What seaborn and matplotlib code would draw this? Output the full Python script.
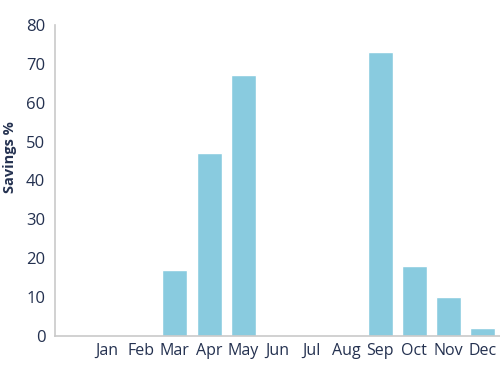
import numpy as np
import pandas as pd
import matplotlib
matplotlib.use('Agg')
import matplotlib.pyplot as plt
import seaborn as sns

# data
months = ['Jan', 'Feb', 'Mar', 'Apr', 'May', 'Jun', 'Jul', 'Aug', 'Sep', 'Oct', 'Nov', 'Dec']
savings = [np.nan, np.nan, 17, 47, 67, np.nan, np.nan, np.nan, 73, 18, 10, 2]
y_ticks = [0, 10, 20, 30, 40, 50, 60, 70, 80]

df = pd.DataFrame({'month': months, 'savings': savings})

sns.set_style('white')
plt.rcParams['font.family'] = ['Open Sans', 'DejaVu Sans']

text_col = '#243150'
axis_col = '#c9c9c9'
bar_col = '#89cbdf'

fig = plt.figure(figsize=(5, 3.77), dpi=100)
ax = fig.add_axes([0.11, 0.109, 0.89, 0.825])

sns.barplot(data=df, x='month', y='savings', order=months, color=bar_col,
            saturation=1, width=0.73, ax=ax)

ax.set_xlim(-1.5, 11.5)
ax.set_ylim(0, 80)
ax.set_yticks(y_ticks)

# tick marks sit between categories, labels in the middle
ax.set_xticks(np.arange(-0.5, 12, 1), minor=True)
ax.tick_params(axis='x', which='major', length=0, pad=5, labelsize=11.5, labelcolor=text_col)
ax.tick_params(axis='x', which='minor', direction='in', length=7, width=1, color=axis_col)
ax.tick_params(axis='y', direction='in', length=11, width=1, color=axis_col,
               pad=7, labelsize=12, labelcolor=text_col)

for s in ['top', 'right']:
    ax.spines[s].set_visible(False)
for s in ['left', 'bottom']:
    ax.spines[s].set_color(axis_col)
    ax.spines[s].set_linewidth(1.2)

ax.set_xlabel('')
ax.set_ylabel('Savings %', fontsize=10.5, fontweight='bold', color=text_col)
ax.yaxis.set_label_coords(-0.085, 0.575)

fig.savefig('out.png', dpi=100)
